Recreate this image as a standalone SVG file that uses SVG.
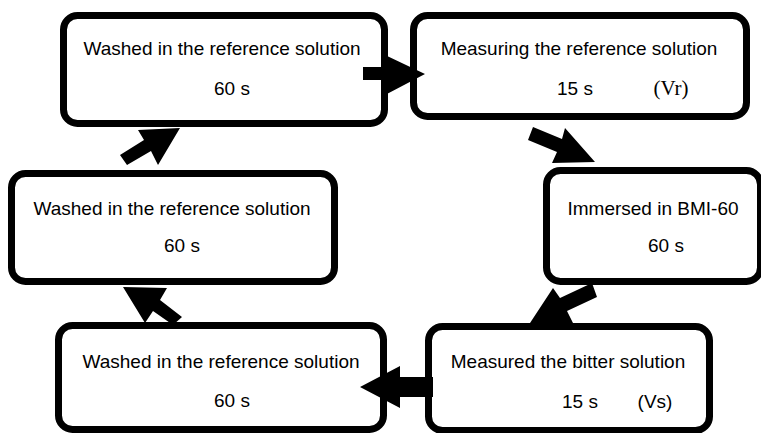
<svg xmlns="http://www.w3.org/2000/svg" width="761" height="433" viewBox="0 0 761 433">
<style>
.box{fill:#fff;stroke:#000;stroke-width:7}
.t{font-family:"Liberation Sans",Arial,sans-serif;font-size:19px;fill:#000}
.s{font-family:"Liberation Serif","Times New Roman",serif;font-size:21px;fill:#000}
.arr{fill:#000}
</style>
<rect width="761" height="433" fill="#fff"/>
<g id="n1"><rect class="box" x="63.5" y="15.5" width="321" height="108" rx="14"/>
<text class="t" x="222" y="55" text-anchor="middle">Washed in the reference solution</text>
<text class="t" x="232" y="95" text-anchor="middle">60 s</text></g>
<g id="n2"><rect class="box" x="413.5" y="15.5" width="333" height="101" rx="14"/>
<text class="t" x="579" y="55" text-anchor="middle">Measuring the reference solution</text>
<text class="t" x="575" y="95" text-anchor="middle">15 s</text>
<text class="s" x="671" y="95" text-anchor="middle">(Vr)</text></g>
<g id="n3"><rect class="box" x="11.5" y="173.5" width="323" height="108" rx="14"/>
<text class="t" x="172" y="215" text-anchor="middle">Washed in the reference solution</text>
<text class="t" x="182" y="252" text-anchor="middle">60 s</text></g>
<g id="n4"><rect class="box" x="546.5" y="170.5" width="214" height="111" rx="14"/>
<text class="t" x="653" y="215" text-anchor="middle">Immersed in BMI-60</text>
<text class="t" x="666" y="252" text-anchor="middle">60 s</text></g>
<g id="n5"><rect class="box" x="58.5" y="325.5" width="325" height="104" rx="14"/>
<text class="t" x="221" y="368" text-anchor="middle">Washed in the reference solution</text>
<text class="t" x="232" y="407" text-anchor="middle">60 s</text></g>
<g id="n6"><rect class="box" x="428.5" y="326.5" width="281" height="104" rx="14"/>
<text class="t" x="568" y="368" text-anchor="middle">Measured the bitter solution</text>
<text class="t" x="580" y="408" text-anchor="middle">15 s</text>
<text class="t" x="655" y="408" text-anchor="middle">(Vs)</text></g>
<g id="connectors">
<polygon class="arr" points="363,67 385,67 385,55 425,74 385,95 385,80 363,80"/>
<polygon class="arr" points="533,127 562,139 565,128 595,162 552,163 557,152 528,140"/>
<polygon class="arr" points="592,283 560,298 553,288 530,323 573,323 567,311 597,297"/>
<polygon class="arr" points="433,377 400,377 400,366 360,387 400,408 400,397 433,397"/>
<polygon class="arr" points="123,287 167,288 160,300 182,317 173,325 153,311 145,323"/>
<polygon class="arr" points="180,128 158,165 151,151 127,165 120,155 144,140 138,130"/>
</g>
</svg>
